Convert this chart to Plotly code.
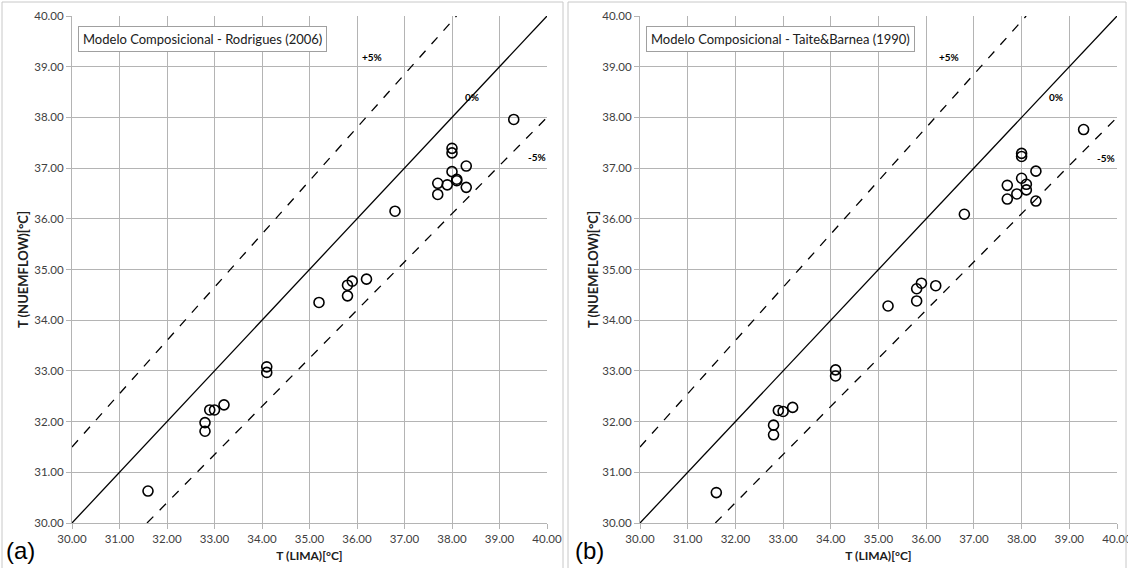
import plotly.graph_objects as go

# ---- data ----
lima_a = [31.6, 32.8, 32.8, 32.9, 33.0, 33.2, 34.1, 34.1, 35.2, 35.8, 35.8, 35.9, 36.2,
          36.8, 37.7, 37.7, 37.9, 38.0, 38.0, 38.0, 38.1, 38.1, 38.3, 38.3, 39.3]
nuem_a = [30.63, 31.98, 31.81, 32.23, 32.23, 32.33, 33.08, 32.97, 34.35, 34.48, 34.69, 34.77, 34.81,
          36.15, 36.70, 36.48, 36.67, 37.39, 37.30, 36.93, 36.78, 36.75, 37.04, 36.62, 37.96]

lima_b = [31.6, 32.8, 32.8, 32.9, 33.0, 33.2, 34.1, 34.1, 35.2, 35.8, 35.8, 35.9, 36.2,
          36.8, 37.7, 37.7, 37.9, 38.0, 38.0, 38.0, 38.1, 38.1, 38.3, 38.3, 39.3]
nuem_b = [30.60, 31.93, 31.74, 32.22, 32.20, 32.28, 33.02, 32.90, 34.28, 34.38, 34.62, 34.73, 34.68,
          36.09, 36.66, 36.39, 36.49, 37.29, 37.23, 36.80, 36.68, 36.57, 36.94, 36.35, 37.76]

titles = ["Modelo Composicional - Rodrigues (2006)", "Modelo Composicional - Taite&Barnea (1990)"]
panel_labels = ["(a)", "(b)"]
ref_pct = [5, 0, -5]
ref_labels = ["+5%", "0%", "-5%"]
axis_min, axis_max = 30.0, 40.0
tick_vals = [30, 31, 32, 33, 34, 35, 36, 37, 38, 39, 40]

W, H = 1128, 568
FONT = "Lato"
GRID = "#b4b4b4"
TXT = "#404040"

fig = go.Figure()

x_doms = [(72 / W, 547 / W), (640 / W, 1117 / W)]
y_dom = (1 - 523 / H, 1 - 16 / H)

datasets = [(lima_a, nuem_a), (lima_b, nuem_b)]
label_pos = [  # per panel, label positions in data units
    {"+5%": (36.32, 39.19), "0%": (38.42, 38.40), "-5%": (39.79, 37.22)},
    {"+5%": (36.48, 39.19), "0%": (38.72, 38.40), "-5%": (39.77, 37.20)},
]

for i, (xs, ys) in enumerate(datasets):
    xa = "x" if i == 0 else "x2"
    ya = "y" if i == 0 else "y2"
    # reference lines
    for p in ref_pct:
        f = 1 + p / 100.0
        x0 = max(axis_min, axis_min / f)
        x1 = min(axis_max, axis_max / f)
        fig.add_trace(go.Scatter(
            x=[x0, x1], y=[x0 * f, x1 * f], mode="lines", xaxis=xa, yaxis=ya,
            line=dict(color="black", width=1.3, dash="solid" if p == 0 else "dash"),
            showlegend=False, hoverinfo="skip"))
    fig.add_trace(go.Scatter(
        x=xs, y=ys, mode="markers", xaxis=xa, yaxis=ya,
        marker=dict(symbol="circle-open", size=10, color="black", line=dict(width=1.6, color="black")),
        showlegend=False))
    for lab in ref_labels:
        lx, ly = label_pos[i][lab]
        fig.add_annotation(x=lx, y=ly, xref=xa, yref=ya, text="<b>%s</b>" % lab, showarrow=False,
                           font=dict(family=FONT, size=10, color="black"))
    fig.add_annotation(x=30.12, y=39.54, xref=xa, yref=ya, text=titles[i], showarrow=False,
                       xanchor="left", yanchor="middle", bgcolor="white", bordercolor="#a0a0a0",
                       borderwidth=1, borderpad=4, font=dict(family=FONT, size=13, color="#202020"))

axis_common = dict(range=[axis_min, axis_max], tickvals=tick_vals, tickformat=".2f",
                   showgrid=True, gridcolor=GRID, gridwidth=1, showline=True, linecolor=GRID,
                   linewidth=1, ticks="outside", ticklen=5, tickcolor=GRID, zeroline=False,
                   tickfont=dict(family=FONT, size=11.5, color=TXT), mirror=False, automargin=False,
                   ticklabeloverflow="allow")

xtitle_font = dict(family=FONT, size=12, color="#202020")
ytitle_font = dict(family=FONT, size=13, color="#202020")
fig.update_layout(
    width=W, height=H, margin=dict(l=0, r=0, t=0, b=0),
    paper_bgcolor="white", plot_bgcolor="white",
    xaxis=dict(domain=list(x_doms[0]), anchor="y", **axis_common,
               title=dict(text="<b>T (LIMA)[°C]</b>", font=xtitle_font, standoff=7)),
    yaxis=dict(domain=list(y_dom), anchor="x", **axis_common,
               title=dict(text="<b>T (NUEMFLOW)[°C]</b>", font=ytitle_font, standoff=2)),
    xaxis2=dict(domain=list(x_doms[1]), anchor="y2", **axis_common,
                title=dict(text="<b>T (LIMA)[°C]</b>", font=xtitle_font, standoff=7)),
    yaxis2=dict(domain=list(y_dom), anchor="x2", **axis_common,
                title=dict(text="<b>T (NUEMFLOW)[°C]</b>", font=ytitle_font, standoff=0)),
)

# panel frames
fig.add_shape(type="rect", xref="paper", yref="paper", x0=2 / W, x1=563 / W, y0=-0.01, y1=1 - 2 / H,
              line=dict(color="#c8c8c8", width=1))
fig.add_shape(type="rect", xref="paper", yref="paper", x0=568 / W, x1=1126 / W, y0=-0.01, y1=1 - 2 / H,
              line=dict(color="#c8c8c8", width=1))

for i, lab in enumerate(panel_labels):
    fig.add_annotation(x=(4 if i == 0 else 573) / W, y=2 / H, xref="paper", yref="paper", text=lab,
                       showarrow=False, xanchor="left", yanchor="bottom",
                       font=dict(family="Liberation Sans", size=24, color="black"))

fig.write_html("out.html", config={"displayModeBar": False},
               post_script="document.body.style.margin='0';document.body.style.overflow='hidden';")
